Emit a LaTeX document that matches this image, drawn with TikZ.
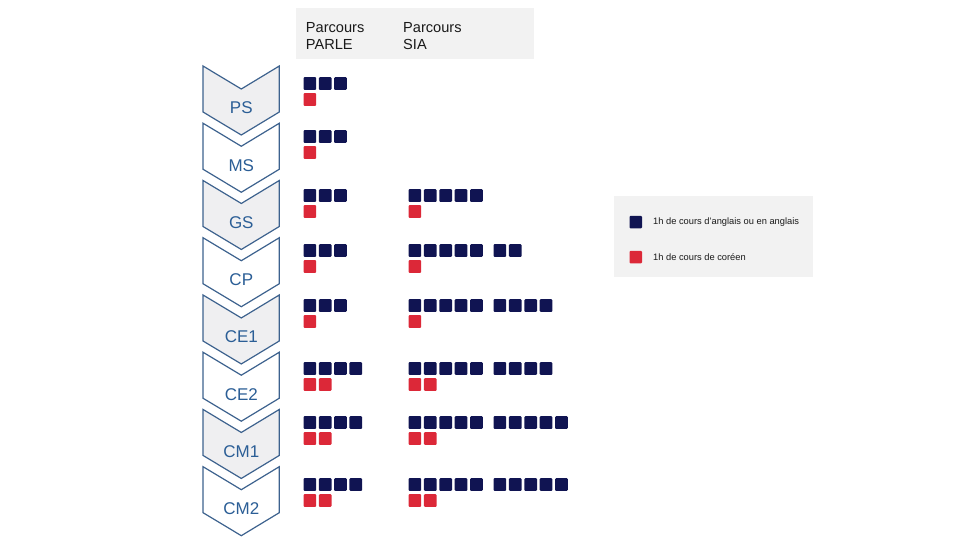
\documentclass[tikz,border=0pt]{standalone}
\usepackage{fontspec}
\setmainfont{Liberation Sans}
\definecolor{navy}{HTML}{101452}
\definecolor{kred}{HTML}{DC2838}
\definecolor{chevfill}{HTML}{EFEFF1}
\definecolor{chevline}{HTML}{3D628E}
\definecolor{chevtext}{HTML}{2B5E96}
\definecolor{boxgray}{HTML}{F2F2F2}
\definecolor{txt}{HTML}{1A1A1A}
\begin{document}
\begin{tikzpicture}[x=1pt,y=-1pt,
  sq/.style={minimum size=12.7pt, inner sep=0pt, rounded corners=1pt, draw=none, anchor=north west},
  nsq/.style={sq, fill=navy},
  rsq/.style={sq, fill=kred},
  chev/.style={draw=chevline, line width=1.2pt, line join=miter},
  chevlabel/.style={text=chevtext, font=\fontsize{17}{20}\selectfont, anchor=base, inner sep=0pt},
  hdrtext/.style={text=txt, font=\fontsize{14.6}{17.7}\selectfont, anchor=base west, inner sep=0pt},
  legtext/.style={text=txt, font=\fontsize{9.3}{11}\selectfont, anchor=west, inner sep=0pt},
  panel/.style={fill=boxgray, draw=none, anchor=north west, inner sep=0pt}]
\useasboundingbox (0,0) rectangle (960,540);
% header
\node[panel, minimum width=238pt, minimum height=51pt] (hdr) at (296,8) {};
\node[hdrtext] (hdr-p1) at (305.7,32.3) {Parcours};
\node[hdrtext] (hdr-p2) at (305.7,50) {PARLE};
\node[hdrtext] (hdr-s1) at (403,32.3) {Parcours};
\node[hdrtext] (hdr-s2) at (403,50) {SIA};
% chevrons
\foreach \lab/\f [count=\i from 0] in {PS/chevfill,MS/white,GS/chevfill,CP/white,CE1/chevfill,CE2/white,CM1/chevfill,CM2/white}{
  \pgfmathsetmacro\t{66+57.24*\i}
  \draw[chev, fill=\f] (203,\t) -- (241.3,\t+23) -- (279.3,\t) -- (279.3,\t+46) -- (241.3,\t+69) -- (203,\t+46) -- cycle;
  \node[chevlabel] (lab-\lab) at (241.3,\t+48) {\lab};
}
% squares
\foreach \y/\np/\rp/\ns/\nt/\rs [count=\r] in {77/3/1/0/0/0,130/3/1/0/0/0,189/3/1/5/0/1,244/3/1/5/2/1,299/3/1/5/4/1,362/4/2/5/4/2,416/4/2/5/5/2,478/4/2/5/5/2}{
  \foreach \k in {1,...,\np}{
    \node[nsq] (pn-\r-\k) at ({303.3+15.3*(\k-1)},\y) {};
  }
  \foreach \k in {1,...,\rp}{
    \node[rsq] (pr-\r-\k) at ({303.3+15.3*(\k-1)},\y+16) {};
  }
  \ifnum\ns>0
    \foreach \k in {1,...,\ns}{
      \node[nsq] (sn-\r-\k) at ({408.3+15.4*(\k-1)},\y) {};
    }
  \fi
  \ifnum\nt>0
    \foreach \k in {1,...,\nt}{
      \node[nsq] (st-\r-\k) at ({493.3+15.4*(\k-1)},\y) {};
    }
  \fi
  \ifnum\rs>0
    \foreach \k in {1,...,\rs}{
      \node[rsq] (sr-\r-\k) at ({408.3+15.4*(\k-1)},\y+16) {};
    }
  \fi
}
% legend
\node[panel, minimum width=199pt, minimum height=81pt] (leg) at (614,196) {};
\node[nsq, minimum size=12.5pt] (leg-n) at (629.3,215.7) {};
\node[rsq, minimum size=12.5pt] (leg-r) at (629.3,250.7) {};
\node[legtext] (leg-nt) at (653,222) {1h de cours d’anglais ou en anglais};
\node[legtext] (leg-rt) at (653,257) {1h de cours de coréen};
\end{tikzpicture}
\end{document}
